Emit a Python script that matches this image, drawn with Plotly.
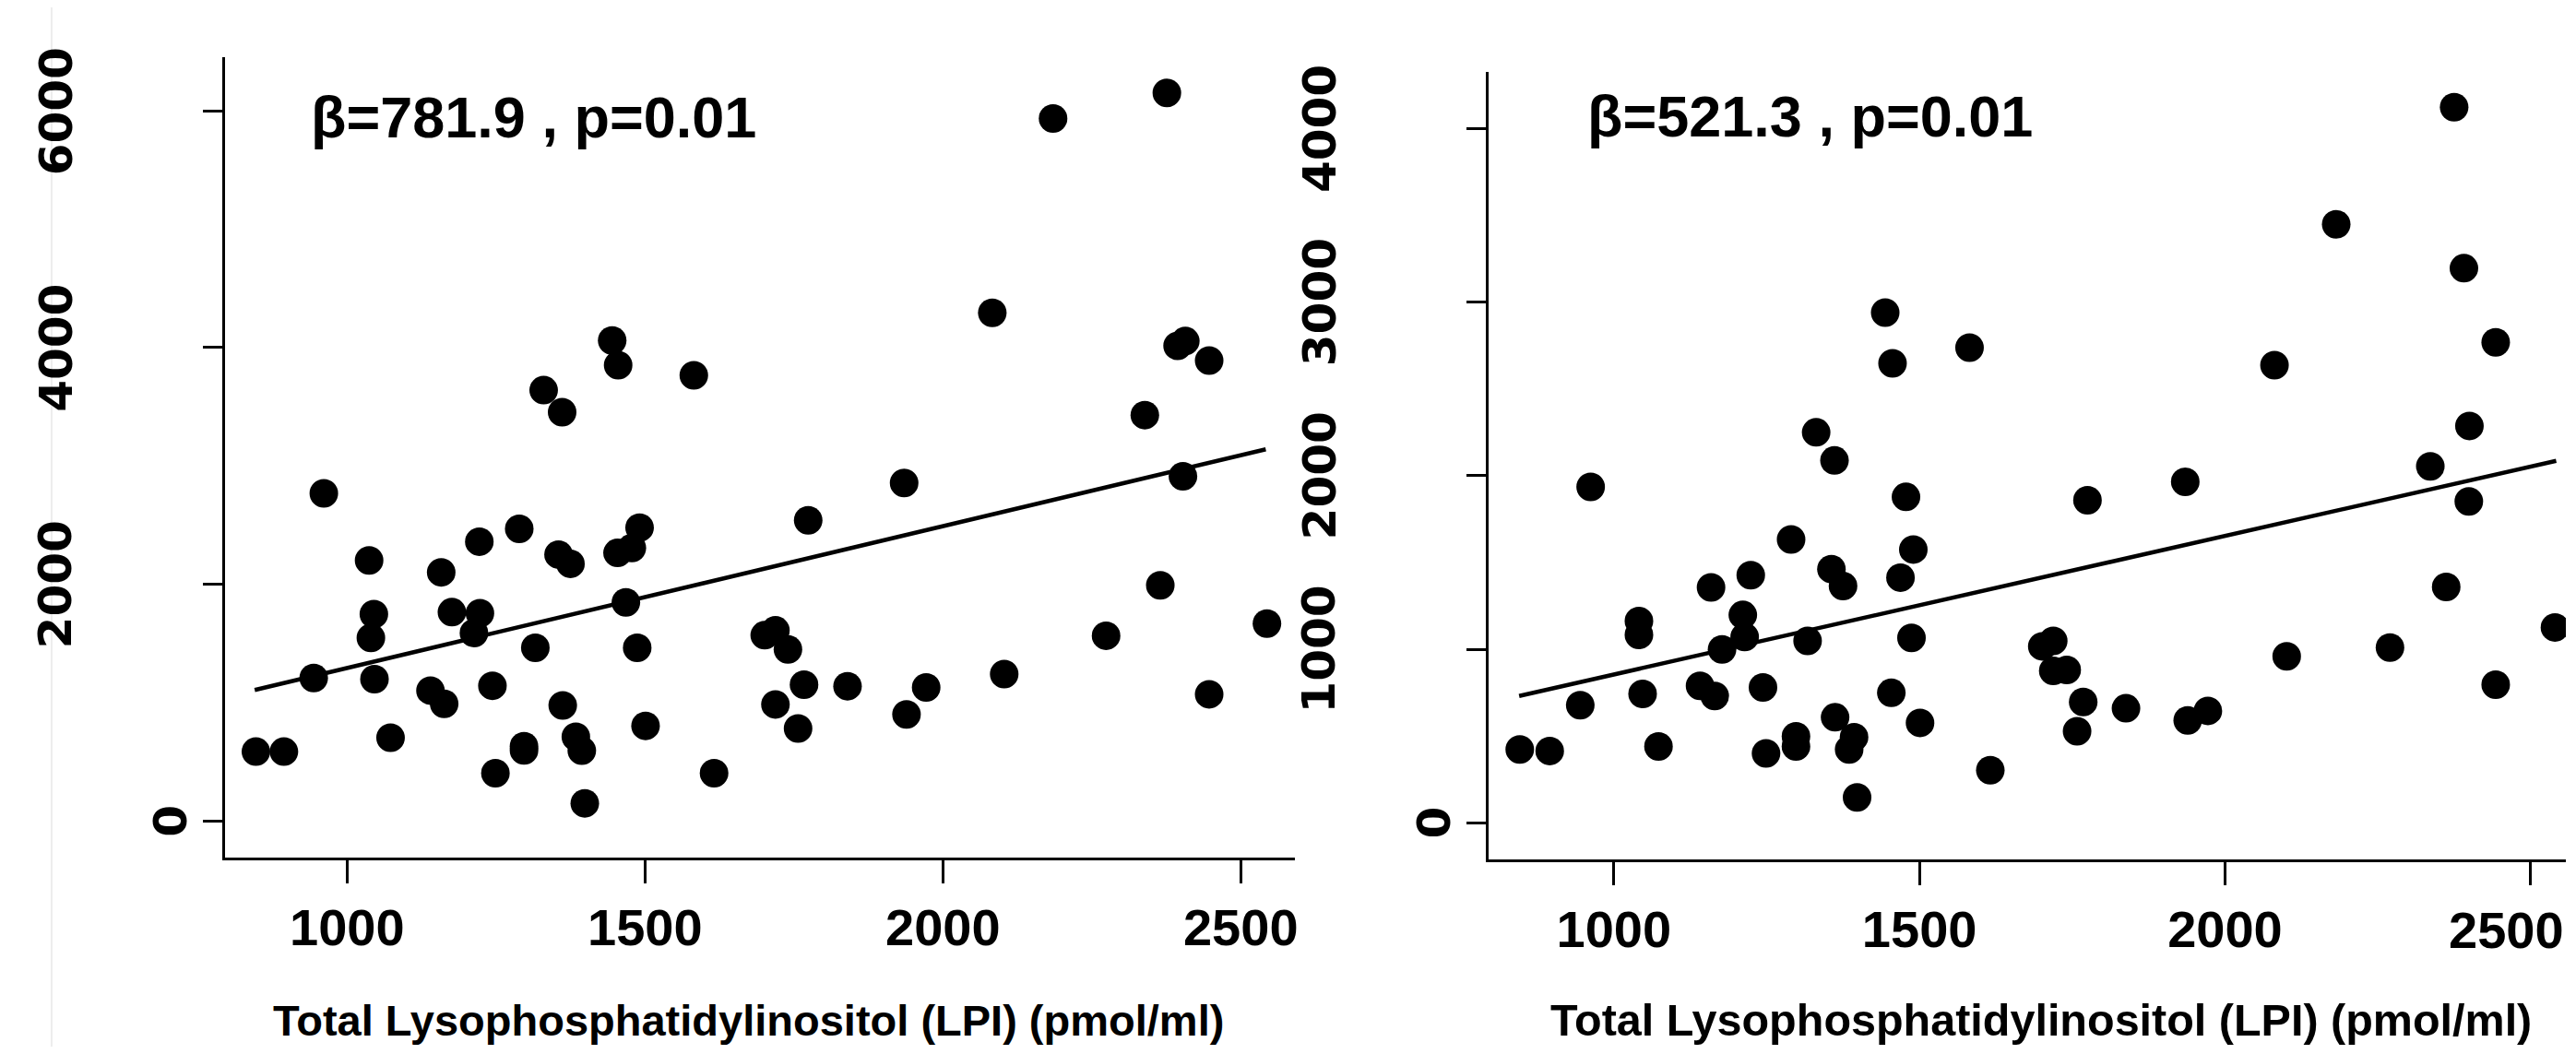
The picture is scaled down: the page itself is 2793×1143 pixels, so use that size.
import plotly.graph_objects as go

# ---------------- data ----------------
lpi_left = [847, 894, 944, 961, 1037, 1045, 1040, 1046, 1073, 1140, 1163, 1158, 1176,
            1222, 1223, 1213, 1244, 1249, 1289, 1316, 1297, 1297, 1330, 1361, 1355, 1375,
            1362, 1384, 1394, 1399, 1445, 1455, 1454, 1478, 1491, 1468, 1487, 1501, 1582,
            1616, 1701, 1719, 1740, 1719, 1767, 1757, 1774, 1840, 1935, 1939, 1972, 2083,
            2103, 2185, 2274, 2339, 2365, 2376, 2394, 2407, 2403, 2447, 2447, 2544]
outcome_left = [584, 584, 1206, 2768, 2200, 1746, 1545, 1197, 701, 1100, 988, 2100, 1763,
                2359, 1754, 1587, 1141, 401, 2467, 1462, 630, 595, 3640, 3453, 2250, 2172,
                974, 710, 593, 147, 4060, 3851, 2264, 2306, 2478, 1846, 1462, 802, 3765,
                401, 1568, 1609, 1448, 983, 1150, 779, 2540, 1137, 2855, 898, 1126, 4293,
                1240, 5937, 1564, 3429, 1990, 6153, 4015, 4055, 2912, 3890, 1069, 1666]

lpi_right = [846, 895, 945, 962, 1041, 1041, 1047, 1073, 1141, 1165, 1159, 1177, 1224,
             1211, 1214, 1244, 1249, 1290, 1317, 1298, 1298, 1331, 1361, 1356, 1375, 1362,
             1393, 1385, 1398, 1444, 1456, 1478, 1490, 1469, 1487, 1454, 1501, 1582, 1616,
             1701, 1719, 1719, 1741, 1768, 1758, 1775, 1838, 1935, 1939, 1972, 2081, 2101,
             2182, 2270, 2336, 2362, 2375, 2391, 2400, 2399, 2443, 2443, 2540]
outcome_right = [423, 414, 678, 1936, 1163, 1083, 743, 440, 789, 731, 1357, 999, 1427,
                 1198, 1071, 780, 400, 1633, 1048, 498, 440, 2250, 2088, 1462, 1365, 608,
                 493, 423, 146, 2940, 2648, 1878, 1575, 1413, 1066, 749, 576, 2738, 303,
                 1017, 1048, 876, 881, 696, 528, 1859, 660, 1965, 590, 645, 2637, 959,
                 3449, 1010, 2054, 1359, 4124, 3196, 2287, 1852, 2769, 796, 1126]

trend_x = [845, 2542]
trend_left = [1105, 3140]
trend_right = [731, 2086]

x_ticks = [1000, 1500, 2000, 2500]
y_ticks_left = [0, 2000, 4000, 6000]
y_ticks_right = [0, 1000, 2000, 3000, 4000]

stats_left = "β=781.9 , p=0.01"
stats_right = "β=521.3 , p=0.01"
x_title = "Total Lysophosphatidylinositol (LPI) (pmol/ml)"

# ---------------- page geometry ----------------
PAGE_W, PAGE_H = 2793, 1143
BODY = 8                      # default body margin of the html page
W, H = PAGE_W - 2 * BODY, PAGE_H - 2 * BODY


def px(xp):
    return (xp - BODY) / W


def py(yp):
    return 1 - (yp - BODY) / H


BLACK = "#000000"
LABEL_FONT = "Liberation Sans, Arial, sans-serif"
YTICK_FONT = "DejaVu Sans, Verdana, sans-serif"

fig = go.Figure()

for xs, ys, xa, ya, clip in [(lpi_left, outcome_left, "x", "y", False),
                             (lpi_right, outcome_right, "x2", "y2", True)]:
    fig.add_trace(go.Scatter(
        x=xs, y=ys, mode="markers", xaxis=xa, yaxis=ya,
        marker=dict(symbol="circle", size=31, color=BLACK, line=dict(width=0)),
        cliponaxis=clip, showlegend=False, hoverinfo="x+y"))

for ys, xa, ya in [(trend_left, "x", "y"), (trend_right, "x2", "y2")]:
    fig.add_trace(go.Scatter(
        x=trend_x, y=ys, mode="lines", xaxis=xa, yaxis=ya,
        line=dict(color=BLACK, width=4.5), showlegend=False, hoverinfo="skip"))

axis_common = dict(showline=True, linecolor=BLACK, linewidth=3, mirror=False,
                   ticks="outside", tickcolor=BLACK, tickwidth=3,
                   showgrid=False, zeroline=False)

xtickfont = dict(family=LABEL_FONT, size=56, color=BLACK, weight="bold")

# the right panel runs off the page edge, so its last label is placed by hand below
right_ticktext = [str(v) for v in x_ticks[:-1]] + [""]

fig.update_layout(
    width=W, height=H, autosize=False,
    margin=dict(l=0, r=0, t=0, b=0, pad=0),
    paper_bgcolor="white", plot_bgcolor="white",
    showlegend=False,
    xaxis=dict(domain=[px(244), px(1406)], range=[794.8, 2591.7], anchor="y",
               tickvals=x_ticks, ticklen=25, tickfont=xtickfont, **axis_common),
    yaxis=dict(domain=[py(930), py(62)], range=[-311.8, 6455], anchor="x",
               tickvals=y_ticks_left, ticklen=21, showticklabels=False, **axis_common),
    xaxis2=dict(domain=[px(1616), 1.0], range=[795.4, 2557.8], anchor="y2",
                tickvals=x_ticks, ticktext=right_ticktext, ticklen=25,
                tickfont=xtickfont, **axis_common),
    yaxis2=dict(domain=[py(931.7), py(78)], range=[-209.4, 4327], anchor="x2",
                tickvals=y_ticks_right, ticklen=21, showticklabels=False, **axis_common),
)

annotations = []

# rotated y tick labels (the single "0" sits closer to the axis, as in the reference)
for ticks, yref, x_long, x_zero in [(y_ticks_left, "y", 61, 185),
                                     (y_ticks_right, "y2", 1432, 1557)]:
    for v in ticks:
        annotations.append(dict(
            text=str(v), x=px(x_zero if v == 0 else x_long), xref="paper",
            y=v, yref=yref, xanchor="center", yanchor="middle", textangle=-90,
            showarrow=False,
            font=dict(family=YTICK_FONT, size=50, color=BLACK, weight="bold")))

# last x tick label of the right panel, kept inside the page
annotations.append(dict(
    text=str(x_ticks[-1]), x=1.0, xref="paper", y=py(1008), yref="paper",
    xanchor="right", yanchor="middle", showarrow=False, font=xtickfont))

# statistics text
for txt, xp, yp in [(stats_left, 335, 127), (stats_right, 1721, 126)]:
    annotations.append(dict(
        text=txt, x=px(xp), y=py(yp), xref="paper", yref="paper",
        xanchor="left", yanchor="middle", showarrow=False,
        font=dict(family=LABEL_FONT, size=63, color=BLACK, weight="bold")))

# x axis titles
for xc, size in [(812, 47), (2215, 48.5)]:
    annotations.append(dict(
        text=x_title, x=px(xc), y=py(1106), xref="paper", yref="paper",
        xanchor="center", yanchor="middle", showarrow=False,
        font=dict(family=LABEL_FONT, size=size, color=BLACK, weight="bold")))

fig.update_layout(annotations=annotations)

# faint vertical edge line visible at the far left of the reference
fig.add_shape(type="line", xref="paper", yref="paper", x0=px(56), x1=px(56), y0=0, y1=1,
              line=dict(color="#ededed", width=2), layer="below")

fig.write_html("out.html")
